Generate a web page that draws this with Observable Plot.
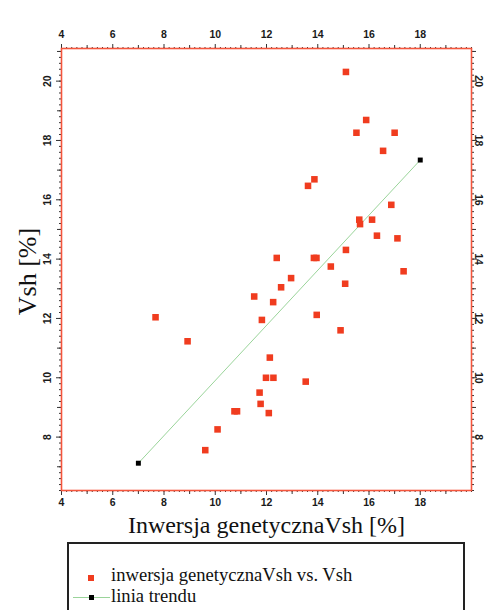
<!DOCTYPE html>
<html><head><meta charset="utf-8">
<script src="https://cdn.jsdelivr.net/npm/d3@7"></script>
<script src="https://cdn.jsdelivr.net/npm/@observablehq/plot@0.6"></script>
<style>
body{margin:0;background:#fff;}
#wrap{position:relative;width:490px;height:610px;overflow:hidden;background:#fff;}
#chart g[aria-label$="tick label"]{font-weight:700;font-family:"Liberation Sans",Arial,sans-serif;}
#legend{position:absolute;left:67px;top:542px;width:398px;height:100px;border:2px solid #222;box-sizing:border-box;font-family:"Liberation Serif","Times New Roman",serif;font-size:18.6px;line-height:18px;color:#111;}
#legend .t{position:absolute;white-space:nowrap;}
#legend .sq{position:absolute;}
#legend .ln{position:absolute;height:0;border-top:1px solid #9ad49a;}
</style>
</head><body>
<div id="wrap">
<div id="chart"></div>
<div id="legend">
  <div class="sq" style="left:19px;top:31px;width:6px;height:6px;background:#f03c1f"></div>
  <div class="t" style="left:42px;top:22px">inwersja genetycznaVsh vs. Vsh</div>
  <div class="ln" style="left:4px;top:53px;width:37px"></div>
  <div class="sq" style="left:19.5px;top:51px;width:5px;height:5px;background:#000"></div>
  <div class="t" style="left:42px;top:43px">linia trendu</div>
</div>
</div>
<script>
// Scatter data: Inwersja genetyczna Vsh [%] vs Vsh [%]
const inwersjaX = [15.10,15.89,15.51,17.00,16.55,13.87,13.62,16.87,15.62,15.65,16.12,16.31,17.11,15.10,12.40,13.85,13.95,14.51,17.35,15.07,12.96,12.57,11.52,12.26,7.67,11.82,13.96,14.89,8.92,12.13,11.98,12.27,13.53,11.73,11.77,10.75,10.85,12.09,10.09,9.61];
const vshY     = [20.31,18.69,18.26,18.26,17.65,16.69,16.47,15.83,15.33,15.18,15.33,14.79,14.70,14.31,14.04,14.04,14.04,13.75,13.59,13.17,13.36,13.05,12.74,12.55,12.04,11.95,12.12,11.60,11.23,10.68,10.00,10.00,9.87,9.50,9.12,8.87,8.87,8.81,8.26,7.56];
// Trend line endpoints
const trendX = [7, 18];
const trendY = [7.12, 17.34];
// Tick labels
const xTickLabels = [4,6,8,10,12,14,16,18];
const yTickLabels = [8,10,12,14,16,18,20];
const xMid = [5,7,9,11,13,15,17,19];
const yMid = [7,9,11,13,15,17,19,21];
const xMinor = d3.range(20, 101).map(i => i / 5);
const yMinor = d3.range(31, 106).map(i => i / 5);

const points = inwersjaX.map((x, i) => ({x, y: vshY[i]}));
const trend = trendX.map((x, i) => ({x, y: trendY[i]}));

const tickFont = {fontFamily: "'Liberation Sans', Arial, sans-serif", fontSize: 10.5, fontWeight: 700, fill: "#1a1a1a"};
const tickCol = "#333";
const noText = {fill: "none", label: null, stroke: tickCol};
const serif = "'Liberation Serif', 'Times New Roman', serif";

const chart = Plot.plot({
  width: 490, height: 540,
  marginTop: 48, marginBottom: 50, marginLeft: 61, marginRight: 19,
  x: {domain: [4, 20]},
  y: {domain: [6.2, 21.1]},
  style: {background: "transparent", overflow: "visible"},
  marks: [
    // minor ticks
    Plot.axisX(xMinor, {anchor: "bottom", tickSize: 2, ...noText}),
    Plot.axisX(xMinor, {anchor: "top", tickSize: 2, ...noText}),
    Plot.axisY(yMinor, {anchor: "left", tickSize: 2, ...noText}),
    Plot.axisY(yMinor, {anchor: "right", tickSize: 2, ...noText}),
    Plot.axisX(xMid, {anchor: "bottom", tickSize: 4, ...noText}),
    Plot.axisX(xMid, {anchor: "top", tickSize: 4, ...noText}),
    Plot.axisY(yMid, {anchor: "left", tickSize: 4, ...noText}),
    Plot.axisY(yMid, {anchor: "right", tickSize: 4, ...noText}),
    // major ticks with labels
    Plot.axisX(xTickLabels, {anchor: "bottom", tickSize: 5, tickPadding: 3, label: null, stroke: tickCol, ...tickFont}),
    Plot.axisX(xTickLabels, {anchor: "top", tickSize: 5, tickPadding: 6, label: null, stroke: tickCol, ...tickFont}),
    Plot.axisY(yTickLabels, {anchor: "left", tickSize: 5, tickPadding: 6, tickRotate: -90, label: null, stroke: tickCol, ...tickFont}),
    Plot.axisY(yTickLabels, {anchor: "right", tickSize: 5, tickPadding: 6, tickRotate: 90, label: null, stroke: tickCol, ...tickFont}),
    Plot.frame({stroke: "#f5553c", strokeWidth: 1.6}),
    Plot.line(trend, {x: "x", y: "y", stroke: "#9ad49a", strokeWidth: 1}),
    Plot.dot(trend, {x: "x", y: "y", symbol: "square", r: 2.8, fill: "#000", stroke: "none"}),
    Plot.dot(points, {x: "x", y: "y", symbol: "square", r: 3.7, fill: "#f03c1f", stroke: "none"}),
    // axis titles
    Plot.text(["Inwersja genetycznaVsh [%]"], {frameAnchor: "bottom", dy: 35, textAnchor: "middle", lineAnchor: "middle", fontSize: 24, fontFamily: serif, fill: "#111"}),
    Plot.text(["Vsh [%]"], {frameAnchor: "left", dx: -34, dy: 2, textAnchor: "middle", lineAnchor: "middle", rotate: -90, fontSize: 26, fontFamily: serif, fill: "#111"})
  ]
});
document.getElementById("chart").appendChild(chart);
</script>
</body></html>
